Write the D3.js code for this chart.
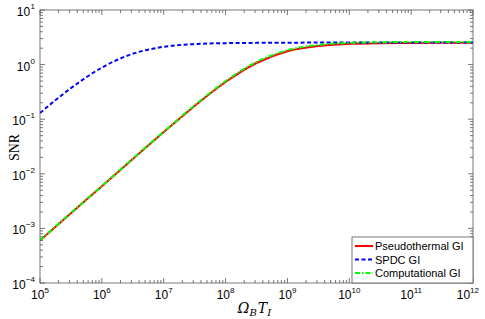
<!DOCTYPE html>
<html>
<head>
<meta charset="utf-8">
<script src="https://cdn.jsdelivr.net/npm/d3@7"></script>
<style>
  body { margin: 0; background: #fff; }
  text { font-family: "Liberation Sans", Arial, sans-serif; }
</style>
</head>
<body>
<div class="chart"></div>
<script>
var svgWidth = 485;
var svgHeight = 319;

var margin = { top: 10, right: 12, bottom: 36, left: 40 };
var width = svgWidth - margin.left - margin.right;
var height = svgHeight - margin.top - margin.bottom;

// values, half-decade steps
var omegaBT = [1e5, 3.16e5, 1e6, 3.16e6, 1e7, 3.16e7, 1e8, 3.16e8, 1e9, 3.16e9, 1e10, 3.16e10, 1e11, 3.16e11, 1e12];
var pseudothermal = [6.0e-4, 1.9e-3, 5.9e-3, 1.87e-2, 5.8e-2, 0.175, 0.48, 1.07, 1.76, 2.2, 2.4, 2.47, 2.49, 2.5, 2.5];
var spdc = [0.13, 0.37, 0.88, 1.58, 2.12, 2.38, 2.47, 2.5, 2.52, 2.53, 2.53, 2.53, 2.53, 2.53, 2.53];
var computational = [6.1e-4, 1.93e-3, 6.0e-3, 1.9e-2, 5.9e-2, 0.18, 0.5, 1.12, 1.84, 2.3, 2.5, 2.57, 2.59, 2.6, 2.6];

var xExponents = [5, 6, 7, 8, 9, 10, 11, 12];
var yExponents = [-4, -3, -2, -1, 0, 1];
var seriesNames = ["Pseudothermal GI", "SPDC GI", "Computational GI"];

var svg = d3.select(".chart")
  .append("svg")
  .attr("width", svgWidth)
  .attr("height", svgHeight);

var chartGroup = svg.append("g")
  .attr("transform", `translate(${margin.left}, ${margin.top})`);

var xScale = d3.scaleLog().domain([1e5, 1e12]).range([0, width]);
var yScale = d3.scaleLog().domain([1e-4, 1e1]).range([height, 0]);

// minor + major ticks, inside on all four sides
var minorX = [], minorY = [];
xExponents.slice(0, -1).forEach(function(e) {
  for (var k = 2; k <= 9; k++) minorX.push(k * Math.pow(10, e));
});
yExponents.slice(0, -1).forEach(function(e) {
  for (var k = 2; k <= 9; k++) minorY.push(k * Math.pow(10, e));
});
var majorX = xExponents.map(e => Math.pow(10, e));
var majorY = yExponents.map(e => Math.pow(10, e));

var tickColor = "#555";
var ticks = chartGroup.append("g").attr("stroke", tickColor).attr("stroke-width", 0.8);

function xTicks(vals, len) {
  vals.forEach(function(v) {
    var x = xScale(v);
    ticks.append("line").attr("x1", x).attr("x2", x).attr("y1", height).attr("y2", height - len);
    ticks.append("line").attr("x1", x).attr("x2", x).attr("y1", 0).attr("y2", len);
  });
}
function yTicks(vals, len) {
  vals.forEach(function(v) {
    var y = yScale(v);
    ticks.append("line").attr("x1", 0).attr("x2", len).attr("y1", y).attr("y2", y);
    ticks.append("line").attr("x1", width).attr("x2", width - len).attr("y1", y).attr("y2", y);
  });
}
xTicks(minorX, 3);
xTicks(majorX, 5);
yTicks(minorY, 3);
yTicks(majorY, 5);

// lines
var line = d3.line()
  .x(d => xScale(d[0]))
  .y(d => yScale(d[1]))
  .curve(d3.curveMonotoneX);

var styles = [
  { color: "#ff0000", dash: null },
  { color: "#0000ff", dash: "4,2.5" },
  { color: "#00ff00", dash: "5,2,1.5,2" }
];
var series = [pseudothermal, spdc, computational];

svg.append("clipPath").attr("id", "plotClip")
  .append("rect").attr("width", width).attr("height", height);

series.forEach(function(vals, i) {
  chartGroup.append("path")
    .datum(omegaBT.map((x, j) => [x, vals[j]]))
    .attr("fill", "none")
    .attr("clip-path", "url(#plotClip)")
    .attr("stroke", styles[i].color)
    .attr("stroke-width", 2)
    .attr("stroke-dasharray", styles[i].dash)
    .attr("d", line);
});

// frame
chartGroup.append("rect")
  .attr("width", width).attr("height", height)
  .attr("fill", "none").attr("stroke", tickColor).attr("stroke-width", 0.8);

// tick labels: 10 with superscript exponent
function supText(exp) { return exp < 0 ? "\u2212" + (-exp) : String(exp); }

xExponents.forEach(function(e) {
  var x = xScale(Math.pow(10, e));
  var t = chartGroup.append("text").attr("y", height + 16)
    .attr("text-anchor", "middle").attr("font-size", 12);
  t.append("tspan").text("10");
  t.append("tspan").attr("font-size", 8).attr("dy", -6).text(supText(e));
  var w = t.node().getComputedTextLength();
  var cx = Math.min(x, svgWidth - margin.left - 6 - w / 2);
  t.attr("x", cx);
});
yExponents.forEach(function(e) {
  var y = yScale(Math.pow(10, e));
  var sup = supText(e);
  chartGroup.append("text").attr("x", -5).attr("y", y - 1)
    .attr("text-anchor", "end").attr("font-size", 8).text(sup);
  var supW = sup.length * 4.4 + 0.5;
  chartGroup.append("text").attr("x", -5 - supW).attr("y", y + 6)
    .attr("text-anchor", "end").attr("font-size", 12).text("10");
});

// axis labels
var xl = chartGroup.append("text")
  .attr("x", width / 2 - 2).attr("y", height + 30)
  .attr("text-anchor", "middle")
  .style("font-family", "'DejaVu Serif', 'Liberation Serif', serif")
  .style("font-style", "italic")
  .attr("font-size", 14);
xl.append("tspan").text("\u03A9");
xl.append("tspan").attr("font-size", 10).attr("dy", 3).text("B");
xl.append("tspan").attr("dy", -3).attr("dx", 1).text("T");
xl.append("tspan").attr("font-size", 10).attr("dy", 3).text("I");

chartGroup.append("text")
  .attr("transform", `translate(${-margin.left + 19}, ${height / 2 + 1}) rotate(-90)`)
  .attr("text-anchor", "middle")
  .style("font-family", "'Liberation Serif', 'DejaVu Serif', serif")
  .attr("font-size", 14)
  .text("SNR");

// legend
var legend = chartGroup.append("g")
  .attr("transform", `translate(${width - 121}, ${height - 46})`);
legend.append("rect")
  .attr("width", 121).attr("height", 46)
  .attr("fill", "#fff").attr("stroke", tickColor).attr("stroke-width", 0.8);
seriesNames.forEach(function(name, i) {
  var y = 9 + i * 13.5;
  legend.append("line")
    .attr("x1", 3).attr("x2", 21).attr("y1", y).attr("y2", y)
    .attr("stroke", styles[i].color).attr("stroke-width", 2)
    .attr("stroke-dasharray", styles[i].dash);
  legend.append("text")
    .attr("x", 23).attr("y", y + 4)
    .attr("font-size", 11)
    .text(name);
});
</script>
</body>
</html>
